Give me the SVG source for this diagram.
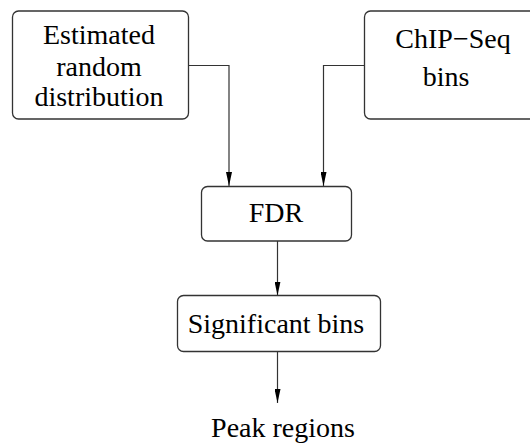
<svg xmlns="http://www.w3.org/2000/svg" width="530" height="445" viewBox="0 0 530 445">
<style>
.box{fill:#fff;stroke:#333;stroke-width:1.3}
.lbl{font-family:"Liberation Serif","Times New Roman",serif;font-size:28px;fill:#000;text-anchor:middle}
.edge{fill:none;stroke:#333;stroke-width:1.2}
</style>
<defs>
<marker id="ah2" viewBox="0 0 14 6" refX="14" refY="3" markerWidth="14" markerHeight="6" markerUnits="userSpaceOnUse" orient="auto">
<path d="M0,0 L14,3 L0,6 Z" fill="#000"/>
</marker>
</defs>
<g id="connectors">
<path class="edge" d="M188,65.5 H229 V186" marker-end="url(#ah2)"/>
<path class="edge" d="M364,65.5 H323.5 V186" marker-end="url(#ah2)"/>
<path class="edge" d="M277.5,241 V295.5" marker-end="url(#ah2)"/>
<path class="edge" d="M277.5,352 V403" marker-end="url(#ah2)"/>
</g>
<g id="n1">
<rect class="box" x="12.5" y="11" width="176" height="108" rx="6"/>
<text class="lbl" x="99" y="44">Estimated</text>
<text class="lbl" x="99" y="76">random</text>
<text class="lbl" x="99" y="106">distribution</text>
</g>
<g id="n2">
<rect class="box" x="364.5" y="11" width="180" height="108" rx="6"/>
<text class="lbl" x="453" y="48">ChIP−Seq</text>
<text class="lbl" x="446" y="86">bins</text>
</g>
<g id="n3">
<rect class="box" x="201.5" y="186.5" width="150" height="54.5" rx="6"/>
<text class="lbl" x="276" y="222">FDR</text>
</g>
<g id="n4">
<rect class="box" x="177.5" y="295.5" width="203" height="56" rx="6"/>
<text class="lbl" x="276" y="333">Significant bins</text>
</g>
<g id="n5">
<text class="lbl" x="283" y="437">Peak regions</text>
</g>
</svg>
